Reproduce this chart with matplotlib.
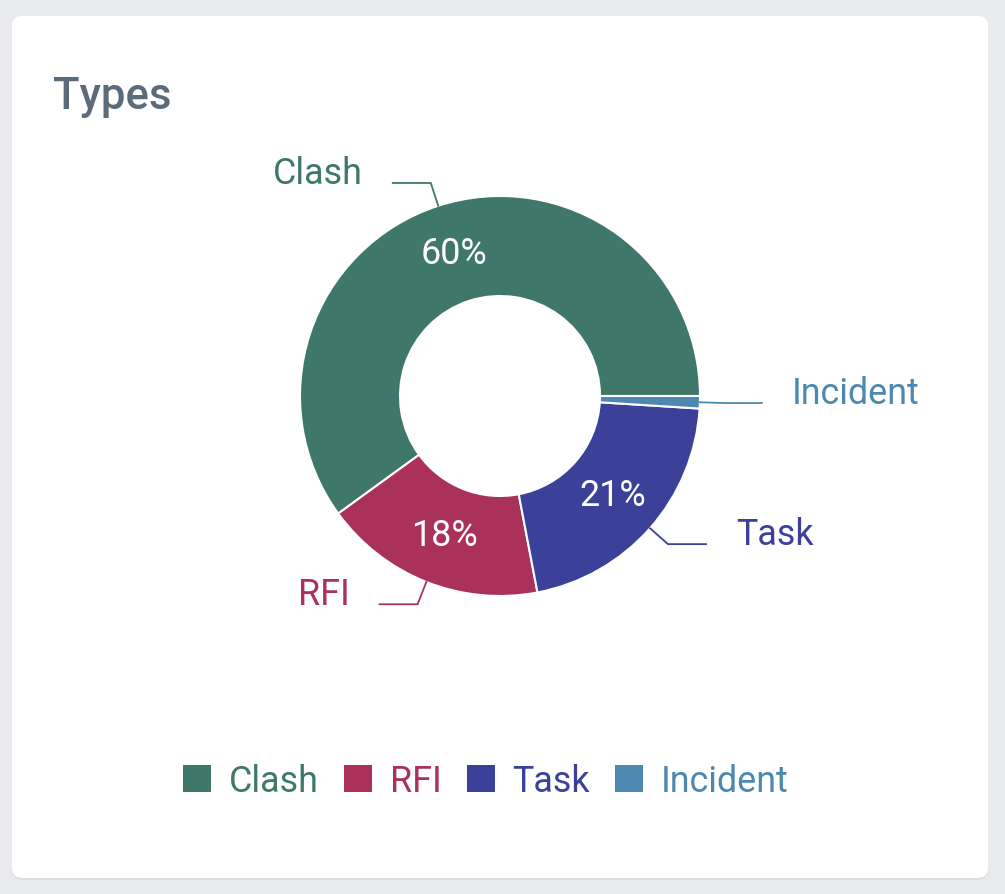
import numpy as np
import matplotlib as mpl
mpl.use('Agg')
import matplotlib.pyplot as plt
from matplotlib.patches import FancyBboxPatch, Patch

plt.rcParams['font.family'] = ['Roboto', 'DejaVu Sans']

# data
categories = ['Clash', 'RFI', 'Task', 'Incident']
values = [60, 18, 21, 1]
colors = ['#3f786a', '#a9315a', '#3b4199', '#4d88b0']
title = 'Types'

W, H = 1005, 895
fig = plt.figure(figsize=(W / 100, H / 100), dpi=100)
fig.patch.set_facecolor('#e9eaee')

# card background, pixel coordinates
bg = fig.add_axes([0, 0, 1, 1])
bg.set_xlim(0, W)
bg.set_ylim(H, 0)
bg.axis('off')
bg.add_patch(FancyBboxPatch((12, 18.5), 976, 862, boxstyle='round,pad=0,rounding_size=10',
                            fc='#d9dadf', ec='none'))
bg.add_patch(FancyBboxPatch((12, 17), 976, 862, boxstyle='round,pad=0,rounding_size=10',
                            fc='white', ec='none'))
bg.text(53, 109, title, fontsize=31.5, fontweight='medium', color='#5b6b79', va='baseline', ha='left')

# donut, 1 unit = 200 px, centre at (500, 397)
R = 200.0
cx, cy = 500, 397
ax = fig.add_axes([0, 0, 1, 1])
ax.set_facecolor('none')

fs = 25.8
wedges, _, autotexts = ax.pie(values, colors=colors, startangle=0, counterclock=True,
                              radius=1.0, autopct=lambda p: '%.0f%%' % p if p >= 5 else '',
                              pctdistance=0.75,
                              wedgeprops=dict(width=0.5, edgecolor='white', linewidth=1.5),
                              textprops=dict(color='white', fontsize=fs))

for w, name, c in zip(wedges, categories, colors):
    mid = np.deg2rad((w.theta1 + w.theta2) / 2)
    ux, uy = np.cos(mid), np.sin(mid)
    sgn = 1 if ux >= 0 else -1
    x1, y1 = ux, uy
    x2, y2 = 1.12 * ux, 1.12 * uy
    x3 = x2 + sgn * 0.19
    ax.plot([x1, x2, x3], [y1, y2, y2], color=c, lw=1.3, solid_joinstyle='miter')
    ax.text(x3 + sgn * 0.15, y2, name, color=c, fontsize=fs, va='baseline',
            ha='left' if sgn > 0 else 'right')

ax.set_xlim(-cx / R, (W - cx) / R)
ax.set_ylim(-(H - cy) / R, cy / R)
ax.set_aspect('equal')
ax.axis('off')

handles = [Patch(facecolor=c, edgecolor='none') for c in colors]
leg = fig.legend(handles, categories, loc='center', bbox_to_anchor=(486 / W, 1 - 782 / H),
                 ncol=4, frameon=False, fontsize=fs, handlelength=0.78, handleheight=0.75,
                 handletextpad=0.5, columnspacing=0.7, borderaxespad=0)
for t, c in zip(leg.get_texts(), colors):
    t.set_color(c)

fig.savefig('out.png', dpi=100, facecolor=fig.get_facecolor())
